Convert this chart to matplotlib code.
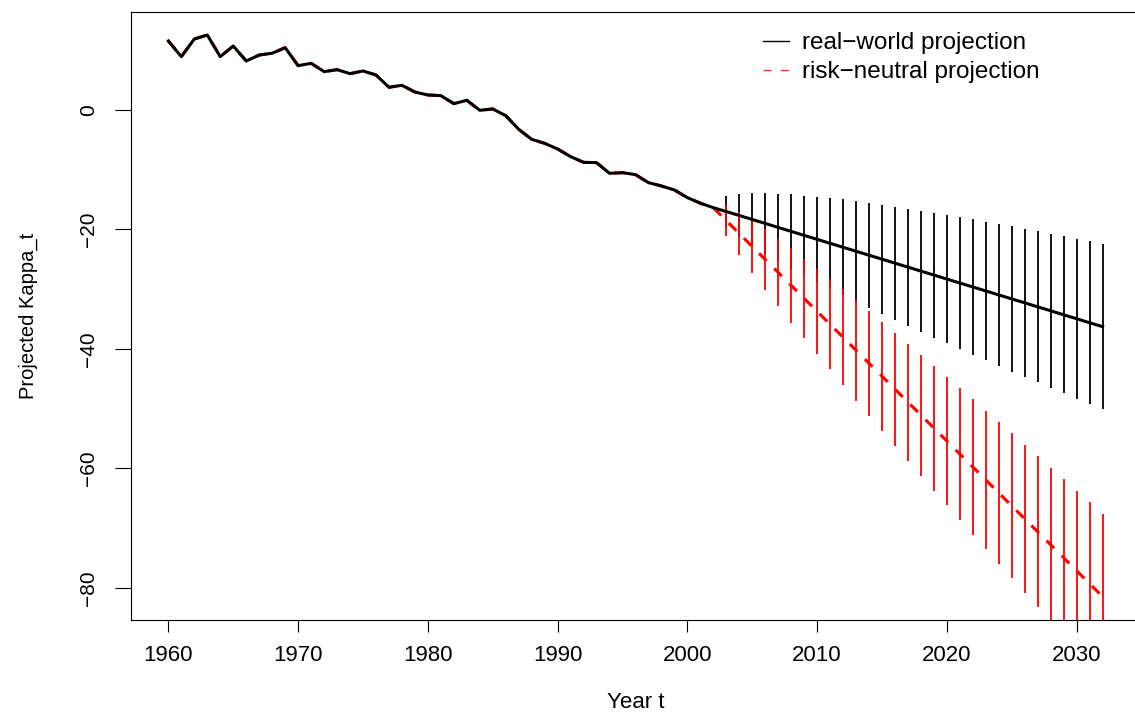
import matplotlib
matplotlib.use("Agg")
import matplotlib.pyplot as plt
from matplotlib.lines import Line2D

plt.rcParams['font.family'] = ['Liberation Sans', 'DejaVu Sans']

years_hist = list(range(1960, 2003))
kappa_hist = [11.55, 8.93, 11.88, 12.55, 8.93, 10.71, 8.2, 9.2, 9.5, 10.43,
              7.42, 7.81, 6.42, 6.75, 6.08, 6.53, 5.86, 3.8, 4.13, 3.01,
              2.51, 2.40, 1.06, 1.62, -0.05, 0.17, -0.95, -3.24, -4.91, -5.58,
              -6.53, -7.81, -8.76, -8.81, -10.6, -10.49, -10.82, -12.16, -12.72, -13.39,
              -14.67, -15.6, -16.35]

years_proj = list(range(2003, 2033))
# real-world projection: mean and interval
rw_mean = [-17.00, -17.66, -18.33, -18.99, -19.66, -20.32, -20.99, -21.65, -22.32, -22.98,
           -23.65, -24.31, -24.97, -25.64, -26.30, -26.97, -27.63, -28.30, -28.96, -29.63,
           -30.29, -30.96, -31.62, -32.28, -32.95, -33.61, -34.28, -34.94, -35.61, -36.27]
rw_upper = [-14.39, -14.11, -13.95, -13.95, -14.11, -14.11, -14.34, -14.50, -14.78, -14.95,
            -15.23, -15.51, -15.84, -16.18, -16.51, -16.85, -17.18, -17.52, -17.91, -18.30,
            -18.69, -19.02, -19.47, -19.86, -20.31, -20.70, -21.14, -21.53, -21.98, -22.43]
rw_lower = [-19.61, -21.21, -22.71, -24.03, -25.21, -26.53, -27.64, -28.80, -29.86, -31.01,
            -32.07, -33.11, -34.10, -35.10, -36.09, -37.09, -38.08, -39.08, -40.01, -40.96,
            -41.89, -42.90, -43.77, -44.70, -45.59, -46.52, -47.42, -48.35, -49.24, -50.11]
# risk-neutral projection
rn_mean = [-18.52, -20.69, -22.86, -25.03, -27.20, -29.37, -31.54, -33.71, -35.88, -38.05,
           -40.22, -42.39, -44.56, -46.73, -48.90, -51.07, -53.24, -55.41, -57.58, -59.75,
           -61.92, -64.09, -66.26, -68.43, -70.60, -72.77, -74.94, -77.11, -79.28, -81.45]
rn_upper = [-15.91, -17.14, -18.48, -19.99, -21.65, -23.16, -24.89, -26.56, -28.34, -30.02,
            -31.80, -33.59, -35.43, -37.27, -39.11, -40.95, -42.79, -44.63, -46.53, -48.42,
            -50.32, -52.15, -54.11, -56.01, -57.96, -59.86, -61.80, -63.70, -65.65, -67.61]
rn_lower = [-21.13, -24.24, -27.24, -30.07, -32.75, -35.58, -38.19, -40.86, -43.42, -46.08,
            -48.64, -51.19, -53.69, -56.19, -58.69, -61.19, -63.69, -66.19, -68.63, -71.08,
            -73.52, -76.03, -78.41, -80.85, -83.24, -85.68, -88.08, -90.52, -92.91, -95.29]

x_ticks = [1960, 1970, 1980, 1990, 2000, 2010, 2020, 2030]
y_ticks = [-80, -60, -40, -20, 0]

fig = plt.figure(figsize=(11.35, 7.12), dpi=100)
ax = fig.add_axes([131 / 1135, 92 / 712, 1009 / 1135, 608 / 712])

ax.vlines(years_proj, rw_lower, rw_upper, colors='black', linewidth=1.3, zorder=2)
ax.vlines(years_proj, rn_lower, rn_upper, colors='red', linewidth=1.3, zorder=3)

ax.plot(years_hist + years_proj, kappa_hist + rn_mean, color='red', linewidth=2.2,
        dashes=(3.5, 3.5), zorder=4)
ax.plot(years_hist + years_proj, kappa_hist + rw_mean, color='black', linewidth=2.2, zorder=5)

ax.set_xlim(1957.12, 2034.88)
ax.set_ylim(-85.36, 16.4)
ax.set_xticks(x_ticks)
ax.set_yticks(y_ticks)
ax.set_yticklabels([str(v).replace('-', '\u2212') for v in y_ticks], rotation=90, va='center')

ax.tick_params(axis='x', length=8.6, width=0.8, pad=9.5, labelsize=16)
ax.tick_params(axis='y', length=11.5, width=0.8, pad=12, labelsize=15)
for s in ax.spines.values():
    s.set_linewidth(0.8)

ax.set_xlabel('Year t', fontsize=16)
ax.xaxis.set_label_coords(0.5, -0.1184)
ax.set_ylabel('Projected Kappa_t', fontsize=14.5)
ax.yaxis.set_label_coords(-0.0922, 0.5)

handles = [Line2D([], [], color='black', linewidth=1.0),
           Line2D([], [], color='#ff3030', linewidth=1.0, dashes=(5.8, 6.8))]
ax.legend(handles, ['real\u2212world projection', 'risk\u2212neutral projection'],
          loc='upper left', bbox_to_anchor=(763 / 1135, 1 - 32 / 712),
          bbox_transform=fig.transFigure, frameon=False, fontsize=17.5,
          borderpad=0, borderaxespad=0, handlelength=1.07, handletextpad=0.53,
          labelspacing=0.3)

plt.savefig('out.png', dpi=100)
